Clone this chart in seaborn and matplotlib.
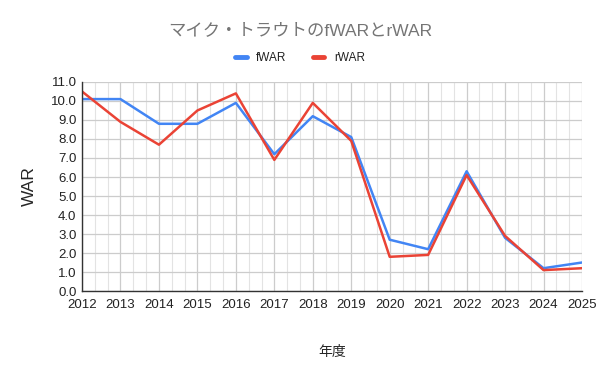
import matplotlib
matplotlib.use("Agg")
from matplotlib import pyplot as plt
from matplotlib.ticker import MultipleLocator
from matplotlib.lines import Line2D
import seaborn as sns
import pandas as pd

years = list(range(2012, 2026))
fwar = [10.1, 10.1, 8.8, 8.8, 9.9, 7.2, 9.2, 8.1, 2.7, 2.2, 6.3, 2.8, 1.2, 1.5]
rwar = [10.5, 8.9, 7.7, 9.5, 10.4, 6.9, 9.9, 7.9, 1.8, 1.9, 6.1, 2.9, 1.1, 1.2]

df = pd.DataFrame({"year": years * 2,
                   "WAR": fwar + rwar,
                   "kind": ["fWAR"] * len(years) + ["rWAR"] * len(years)})

sns.set_style("white")
plt.rcParams['font.family'] = ['Liberation Sans', 'Noto Sans CJK JP', 'DejaVu Sans']

fig = plt.figure(figsize=(6, 3.71), dpi=100)
ax = fig.add_axes([0.1367, 0.2156, 0.8333, 0.5634])
sns.lineplot(data=df, x="year", y="WAR", hue="kind",
             palette={"fWAR": "#4285F4", "rWAR": "#EA4335"},
             linewidth=1.8, ax=ax, legend=False)

ax.set_xlim(2012, 2025)
ax.set_ylim(0, 11)
ax.xaxis.set_major_locator(MultipleLocator(1))
ax.xaxis.set_minor_locator(MultipleLocator(1 / 3))
ax.yaxis.set_major_locator(MultipleLocator(1))
ax.set_yticklabels([f"{v:.1f}" for v in ax.get_yticks()])
ax.grid(which="major", color="#cccccc", linewidth=0.9)
ax.grid(which="minor", axis="x", color="#e3e3e3", linewidth=0.8)
ax.set_axisbelow(True)
ax.tick_params(which="both", length=0, labelsize=9.5, colors="#222222")
ax.tick_params(axis="x", pad=6)
ax.tick_params(axis="y", pad=4)
for side in ["top", "right"]:
    ax.spines[side].set_visible(False)
for side in ["left", "bottom"]:
    ax.spines[side].set_color("#333333")
    ax.spines[side].set_linewidth(1.0)

ax.set_xlabel("年度", fontsize=10, labelpad=24)
ax.set_ylabel("WAR", fontsize=12.5, labelpad=10)

fig.text(0.5, 0.918, "マイク・トラウトのfWARとrWAR", ha="center", va="center",
         fontsize=12.5, color="#757575")
handles = [Line2D([], [], color="#4285F4", lw=3.5),
           Line2D([], [], color="#EA4335", lw=3.5)]
fig.legend(handles, ["fWAR", "rWAR"], loc="center", bbox_to_anchor=(0.5, 0.843),
           ncol=2, frameon=False, fontsize=8.5, handlelength=1.0,
           columnspacing=2.2, handletextpad=0.8, labelcolor="#222222")

fig.savefig("out.png", dpi=100)
